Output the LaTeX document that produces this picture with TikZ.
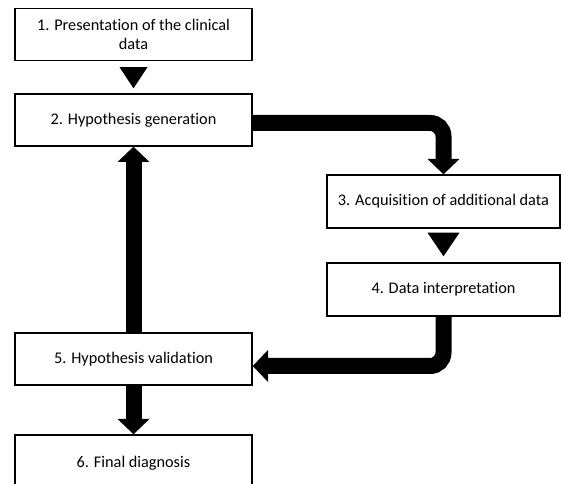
\documentclass[tikz,border=0pt]{standalone}
\usepackage{fontspec}
\setmainfont{Carlito}[Ligatures=NoCommon]
\usetikzlibrary{arrows.meta,positioning}

\begin{document}
\begin{tikzpicture}
  [
    x=0.75pt, y=-0.75pt,
    font=\fontsize{12.2pt}{13.8pt}\selectfont,
    box/.style      = {draw, line width=1pt, fill=white, align=center,
                       minimum width=177.75pt, minimum height=39pt, inner sep=2pt},
    widebox/.style  = {box, minimum width=174.75pt, minimum height=39.75pt},
    bigarrow/.style = {line width=12pt, rounded corners=10pt,
                       -{Triangle[width=23.25pt, length=11.5pt]}},
  ]

%Page frame of the picture
\useasboundingbox (0,0) rectangle (561,484);

%Centres of the two columns
\def \lx{133.5}
\def \rx{443.5}

%The six steps
\node[box]     (b1) at (\lx,34.5)  {1. Presentation of the clinical\\data};
\node[box]     (b2) at (\lx,120)   {2. Hypothesis generation};
\node[widebox] (b3) at (\rx,201.5) {3. Acquisition of additional data};
\node[widebox] (b4) at (\rx,289.5) {4. Data interpretation};
\node[box]     (b5) at (\lx,359)   {5. Hypothesis validation};
\node[box, minimum height=42pt] (b6) at (\lx,463) {6. Final diagnosis};

%Triangles in the gaps
\fill ([shift={(-14,6)}]b1.south) -- ([shift={(14,6)}]b1.south) -- ([shift={(0,-5)}]b2.north) -- cycle;
\fill ([shift={(-16,4)}]b3.south) -- ([shift={(16,4)}]b3.south) -- ([shift={(0,-6)}]b4.north) -- cycle;

%Thick block arrows
\draw[bigarrow] ([yshift=-2.25pt]b2.east) -| (b3.north);
\draw[bigarrow] (b4.south) |- ([yshift=-5.25pt]b5.east);
\draw[bigarrow] (b5.north) -- (b2.south);
\draw[bigarrow] (b5.south) -- (b6.north);
\end{tikzpicture}
\end{document}
